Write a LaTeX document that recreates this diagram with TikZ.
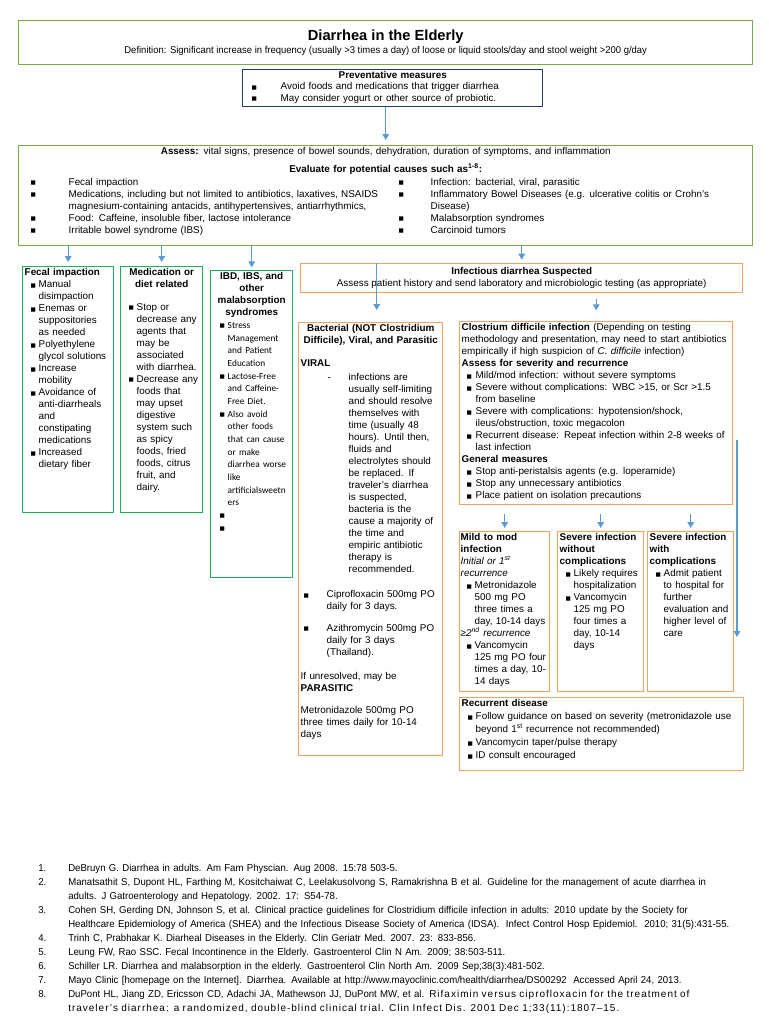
\documentclass[tikz,border=0pt]{standalone}
\usepackage{fontspec}
\setmainfont{Liberation Sans}
\newfontfamily\narrowfont[FakeStretch=0.96]{Liberation Sans}
\newfontfamily\spacedfont[LetterSpace=10]{Liberation Sans}
\newfontfamily\calfont{Carlito}
\newfontfamily\symfont{DejaVu Sans}
\usepackage{xcolor}
\usetikzlibrary{arrows.meta, positioning}

\definecolor{leafgreen}{HTML}{74AE47}
\definecolor{mintgreen}{HTML}{1FAF55}
\definecolor{navyblue}{HTML}{233B6A}
\definecolor{skyblue}{HTML}{5B9BD5}
\definecolor{amberline}{HTML}{F4A261}

% square bullet with hanging indent: #1 = text indent, #2 = bullet offset
\newcommand{\sqmark}{\raisebox{0.6pt}{\symfont\fontsize{4.2}{5}\selectfont ■}}
\newcommand{\sqi}[2]{\par\let\\\newline\hangindent=#1\hangafter=1\noindent\makebox[#1][l]{\hspace*{#2}\sqmark}}
\newcommand{\dashi}[2]{\par\let\\\newline\hangindent=#1\hangafter=1\noindent\makebox[#1][l]{\hspace*{#2}-}}
\newcommand{\refi}[1]{\par\let\\\newline\hangindent=22.5pt\hangafter=1\noindent\makebox[22.5pt][l]{#1.}}

\begin{document}
\begin{tikzpicture}[x=0.75pt, y=-0.75pt,
    % box styles
    panel/.style={draw, line width=1.1pt, anchor=north west, inner xsep=1.5pt, inner ysep=1.5pt, align=left, font=\fontsize{7.4}{9}\selectfont},
    greenbox/.style={panel, draw=mintgreen},
    orangebox/.style={panel, draw=amberline},
    tall/.style={execute at begin node={\begin{minipage}[t][#1][t]{\linewidth}\raggedright}, execute at end node={\end{minipage}}},
    link/.style={draw=skyblue, line width=0.9pt, -{Triangle[length=4.5pt, width=5pt]}}
  ]
  \useasboundingbox (0,0) rectangle (768,1024);

  % --- Header ---
  \node (title) [panel, draw=leafgreen, align=center, minimum width=550.5pt, minimum height=33pt] at (18,20)
    {{\fontsize{11}{13}\selectfont\bfseries Diarrhea in the Elderly}\\[1pt]
     {\narrowfont Definition: Significant increase in frequency (usually >3 times a day) of loose or liquid stools/day and stool weight >200 g/day}};

  \node (prevent) [panel, draw=navyblue, text width=222pt, tall=24.75pt, font=\fontsize{7.4}{8.3}\selectfont] at (242,69)
    {{\centering\textbf{Preventative measures}\par}
     \sqi{27pt}{5.25pt}Avoid foods and medications that trigger diarrhea
     \sqi{27pt}{5.25pt}May consider yogurt or other source of probiotic.\par};

  \node (assess) [panel, draw=leafgreen, text width=547.5pt, tall=72pt] at (18,145)
    {{\centering\textbf{Assess:} vital signs, presence of bowel sounds, dehydration, duration of symptoms, and inflammation\par}
     \vspace{4.5pt}
     {\centering\textbf{Evaluate for potential causes such as\textsuperscript{1-8}:}\par}
     \vspace{0.5pt}
     \noindent\begin{minipage}[t]{279pt}\raggedright
       \sqi{36pt}{7.5pt}Fecal impaction
       \sqi{36pt}{7.5pt}Medications, including but not limited to antibiotics, laxatives, NSAIDS\\magnesium-containing antacids, antihypertensives, antiarrhythmics,
       \sqi{36pt}{7.5pt}Food: Caffeine, insoluble fiber, lactose intolerance
       \sqi{36pt}{7.5pt}Irritable bowel syndrome (IBS)\par
     \end{minipage}%
     \begin{minipage}[t]{268pt}\raggedright
       \sqi{28.5pt}{4.5pt}Infection: bacterial, viral, parasitic
       \sqi{28.5pt}{4.5pt}Inflammatory Bowel Diseases (e.g. ulcerative colitis or Crohn’s\\Disease)
       \sqi{28.5pt}{4.5pt}Malabsorption syndromes
       \sqi{28.5pt}{4.5pt}Carcinoid tumors\par
     \end{minipage}};

  % --- Non-infectious causes ---
  \node (fecal) [greenbox, text width=65.25pt, tall=181.5pt] at (22,266)
    {\textbf{Fecal impaction}
     \sqi{10.5pt}{4.5pt}Manual\\disimpaction
     \sqi{10.5pt}{4.5pt}Enemas or\\suppositories\\as needed
     \sqi{10.5pt}{4.5pt}Polyethylene\\glycol solutions
     \sqi{10.5pt}{4.5pt}Increase\\mobility
     \sqi{10.5pt}{4.5pt}Avoidance of\\anti-diarrheals\\and\\constipating\\medications
     \sqi{10.5pt}{4.5pt}Increased\\dietary fiber\par};

  \node (meds) [greenbox, text width=58.5pt, tall=181.5pt] at (120,266)
    {{\centering\textbf{Medication or\\diet related}\par}
     \vspace{8pt}
     \sqi{10.5pt}{4.5pt}Stop or\\decrease any\\agents that\\may be\\associated\\with diarrhea.
     \sqi{10.5pt}{4.5pt}Decrease any\\foods that\\may upset\\digestive\\system such\\as spicy\\foods, fried\\foods, citrus\\fruit, and\\dairy.\par};

  \node (ibd) [greenbox, text width=58.5pt, tall=227.25pt] at (210,270)
    {{\centering\textbf{IBD, IBS, and\\other\\malabsorption\\syndromes}\par}
     {\calfont\fontsize{7}{9.5}\selectfont
     \sqi{11.25pt}{5.25pt}Stress\\Management\\and Patient\\Education
     \sqi{11.25pt}{5.25pt}Lactose-Free\\and Caffeine-\\Free Diet.
     \sqi{11.25pt}{5.25pt}Also avoid\\other foods\\that can cause\\or make\\diarrhea worse\\like\\artificialsweetn\\ers
     \sqi{11.25pt}{5.25pt}
     \sqi{11.25pt}{5.25pt}\par}};

  % --- Infectious branch ---
  \node (infect) [panel, draw=amberline, align=center, minimum width=331.5pt, minimum height=21.75pt] at (300,263)
    {\textbf{Infectious diarrhea Suspected}\\Assess patient history and send laboratory and microbiologic testing (as appropriate)};

  \node (bact) [orangebox, text width=105pt, tall=321.75pt] at (298,322)
    {{\centering\textbf{Bacterial (NOT Clostridium\\Difficile), Viral, and Parasitic}\par}
     \vspace{8pt}
     \textbf{VIRAL}\par\vspace{1.5pt}
     \dashi{36pt}{20.25pt}infections are\\usually self-limiting\\and should resolve\\themselves with\\time (usually 48\\hours). Until then,\\fluids and\\electrolytes should\\be replaced. If\\traveler’s diarrhea\\is suspected,\\bacteria is the\\cause a majority of\\the time and\\empiric antibiotic\\therapy is\\recommended.
     \par\vspace{10pt}
     \sqi{19.5pt}{2.25pt}Ciprofloxacin 500mg PO\\daily for 3 days.
     \par\vspace{7pt}
     \sqi{19.5pt}{2.25pt}Azithromycin 500mg PO\\daily for 3 days\\(Thailand).
     \par\vspace{9pt}
     If unresolved, may be\\\textbf{PARASITIC}
     \par\vspace{8pt}
     Metronidazole 500mg PO\\three times daily for 10-14\\days\par};

  \node (cdiff) [orangebox, text width=201.75pt, tall=134.25pt] at (459,321)
    {\textbf{Clostrium difficile infection} (Depending on testing\\methodology and presentation, may need to start antibiotics\\empirically if high suspicion of \textit{C. difficile} infection)\par
     \textbf{Assess for severity and recurrence}
     \sqi{10.5pt}{3.75pt}Mild/mod infection: without severe symptoms
     \sqi{10.5pt}{3.75pt}Severe without complications: WBC >15, or Scr >1.5\\from baseline
     \sqi{10.5pt}{3.75pt}Severe with complications: hypotension/shock,\\ileus/obstruction, toxic megacolon
     \sqi{10.5pt}{3.75pt}Recurrent disease: Repeat infection within 2-8 weeks of\\last infection
     \par\textbf{General measures}
     \sqi{10.5pt}{3.75pt}Stop anti-peristalsis agents (e.g. loperamide)
     \sqi{10.5pt}{3.75pt}Stop any unnecessary antibiotics
     \sqi{10.5pt}{3.75pt}Place patient on isolation precautions\par};

  \node (mild) [orangebox, inner xsep=0.75pt, text width=66pt, tall=117pt] at (459,531)
    {\textbf{Mild to mod\\infection}\par
     \textit{Initial or 1\textsuperscript{st}\\recurrence}
     \sqi{10.5pt}{4.5pt}Metronidazole\\500 mg PO\\three times a\\day, 10-14 days
     \par\textit{≥2\textsuperscript{nd} recurrence}
     \sqi{10.5pt}{4.5pt}Vancomycin\\125 mg PO four\\times a day, 10-\\14 days\par};

  \node (severe) [orangebox, text width=61.5pt, tall=117pt] at (557,531)
    {\textbf{Severe infection\\without\\complications}
     \sqi{10.5pt}{4.5pt}Likely requires\\hospitalization
     \sqi{10.5pt}{4.5pt}Vancomycin\\125 mg PO\\four times a\\day, 10-14\\days\par};

  \node (complic) [orangebox, text width=61.5pt, tall=117pt] at (647,531)
    {\textbf{Severe infection\\with\\complications}
     \sqi{10.5pt}{4.5pt}Admit patient\\to hospital for\\further\\evaluation and\\higher level of\\care\par};

  \node (recur) [orangebox, text width=210pt, tall=51.75pt, font=\fontsize{7.4}{9.75}\selectfont] at (459,697)
    {\textbf{Recurrent disease}
     \sqi{10.5pt}{4.5pt}Follow guidance on based on severity (metronidazole use\\beyond 1\textsuperscript{st} recurrence not recommended)
     \sqi{10.5pt}{4.5pt}Vancomycin taper/pulse therapy
     \sqi{10.5pt}{4.5pt}ID consult encouraged\par};

  % --- Connectors ---
  \draw [link, shorten >=3.75pt] (assess.north |- prevent.south) -- (assess.north);
  \draw [link, shorten >=3pt] (assess.south -| fecal.north) -- (fecal.north);
  \draw [link, shorten >=3pt] (assess.south -| meds.north) -- (meds.north);
  \draw [link, shorten >=2pt] (assess.south -| ibd.north) -- (ibd.north);
  \draw [link, shorten >=2.5pt] (assess.south -| infect.north) -- (infect.north);
  \draw [link, shorten >=9pt] ([xshift=4.5pt]infect.north -| bact.north) -- ([xshift=4.5pt]bact.north);
  \draw [link, shorten <=4pt, shorten >=8pt] (infect.south -| cdiff.north) -- (cdiff.north);
  \draw [link, shorten <=6.75pt, shorten >=2.25pt] (cdiff.south -| mild.north) -- (mild.north);
  \draw [link, shorten <=6.75pt, shorten >=2.25pt] (cdiff.south -| severe.north) -- (severe.north);
  \draw [link, shorten <=6.75pt, shorten >=2.25pt] (cdiff.south -| complic.north) -- (complic.north);
  \coordinate (recur_top) at (737,440);
  \coordinate (recur_tip) at (737,637);
  \draw [link] (recur_top) -- (recur_tip);

  % --- References ---
  \node (refs) [anchor=north west, inner sep=0pt, text width=540pt, align=left, font=\narrowfont\fontsize{7.5}{10.5}\selectfont] at (38,857)
    {\refi{1}DeBruyn G. Diarrhea in adults. Am Fam Physcian. Aug 2008. 15:78 503-5.
     \refi{2}Manatsathit S, Dupont HL, Farthing M, Kositchaiwat C, Leelakusolvong S, Ramakrishna B et al. Guideline for the management of acute diarrhea in\\adults. J Gatroenterology and Hepatology. 2002. 17: S54-78.
     \refi{3}Cohen SH, Gerding DN, Johnson S, et al. Clinical practice guidelines for Clostridium difficile infection in adults: 2010 update by the Society for\\Healthcare Epidemiology of America (SHEA) and the Infectious Disease Society of America (IDSA).\ \ Infect Control Hosp Epidemiol.\ \ 2010; 31(5):431-55.
     \refi{4}Trinh C, Prabhakar K. Diarheal Diseases in the Elderly. Clin Geriatr Med. 2007. 23: 833-856.
     \refi{5}Leung FW, Rao SSC. Fecal Incontinence in the Elderly. Gastroenterol Clin N Am. 2009; 38:503-511.
     \refi{6}Schiller LR. Diarrhea and malabsorption in the elderly. Gastroenterol Clin North Am. 2009 Sep;38(3):481-502.
     \refi{7}Mayo Clinic [homepage on the Internet]. Diarrhea. Available at http://www.mayoclinic.com/health/diarrhea/DS00292\ \ Accessed April 24, 2013.
     \refi{8}DuPont HL, Jiang ZD, Ericsson CD, Adachi JA, Mathewson JJ, DuPont MW, et al. {\spacedfont Rifaximin versus ciprofloxacin for the treatment of\\traveler’s diarrhea: a randomized, double-blind clinical trial. Clin Infect Dis. 2001 Dec 1;33(11):1807–15.}\par};
\end{tikzpicture}
\end{document}
